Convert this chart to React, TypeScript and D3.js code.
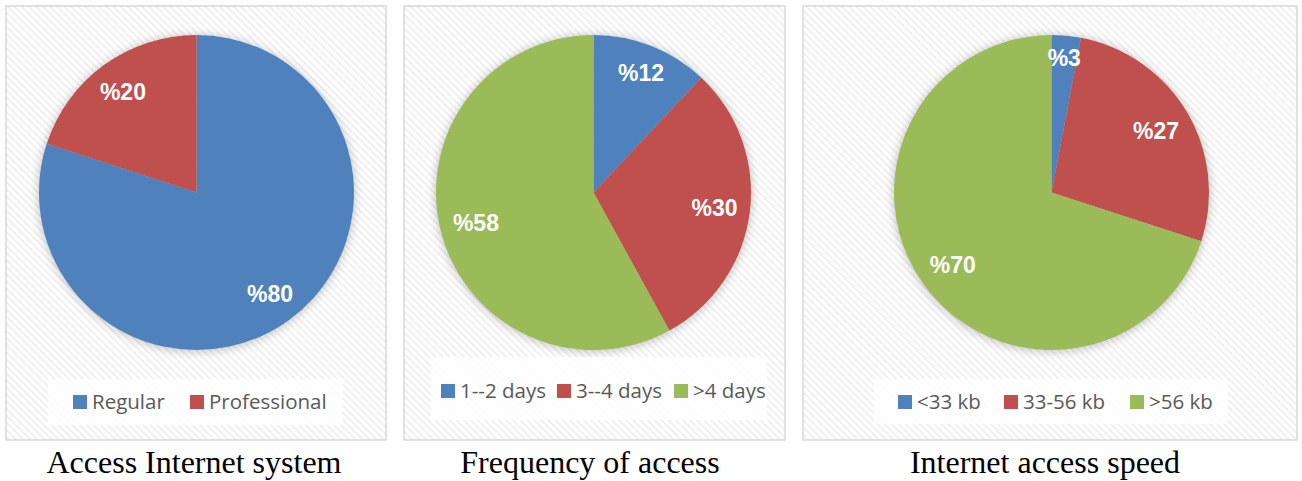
import React from "react";
import * as d3 from "d3";

const colors = ["#4F81BD", "#C0504D", "#9BBB59"];

const titles = ["Access Internet system", "Frequency of access", "Internet access speed"];

const cats1 = ["Regular", "Professional"];
const vals1 = [80, 20];

const cats2 = ["1--2 days", "3--4 days", ">4 days"];
const vals2 = [12, 30, 58];

const cats3 = ["<33 kb", "33-56 kb", ">56 kb"];
const vals3 = [3, 27, 70];

const panels = [
  {
    cats: cats1, vals: vals1, title: titles[0],
    x: 6, w: 380, cx: 196.5,
    legend: { x: 48, y: 379, w: 295, h: 46, sq: [73, 190], sy: 395 },
    titleX: 194,
  },
  {
    cats: cats2, vals: vals2, title: titles[1],
    x: 404, w: 381, cx: 593.5,
    legend: { x: 431, y: 357, w: 336, h: 63, sq: [441, 557, 674], sy: 384 },
    titleX: 590,
  },
  {
    cats: cats3, vals: vals3, title: titles[2],
    x: 803, w: 494, cx: 1051.5,
    legend: { x: 874, y: 379, w: 354, h: 45, sq: [898, 1004, 1130], sy: 395 },
    titleX: 1045,
  },
];

const PY = 6, PH = 434, CY = 192.5, R = 157.5;
const LABEL_OUTER = R - 11.5;

export default function App() {
  const pie = d3.pie<number>().sort(null).value((d) => d);
  const arc = d3.arc<d3.PieArcDatum<number>>().innerRadius(0).outerRadius(R);

  return (
    <svg width={1302} height={481} style={{ position: "absolute", left: 0, top: 0, display: "block" }}>
      <defs>
        <pattern id="hatch" patternUnits="userSpaceOnUse" width={5} height={5} patternTransform="rotate(-45)">
          <rect width={5} height={5} fill="#ffffff" />
          <line x1={0} y1={0} x2={0} y2={5} stroke="#e9e9e9" strokeWidth={2.6} />
        </pattern>
        <filter id="shadow" x="-20%" y="-20%" width="140%" height="140%">
          <feGaussianBlur stdDeviation={5} />
        </filter>
      </defs>
      <rect width={1302} height={481} fill="#ffffff" />
      {panels.map((p, i) => {
        const arcs = pie(p.vals);
        return (
          <g key={i}>
            <rect x={p.x} y={PY} width={p.w} height={PH} fill="url(#hatch)" stroke="#d9d9d9" strokeWidth={1.5} />
            <circle cx={p.cx} cy={CY + 1} r={R + 1} fill="#000" opacity={0.22} filter="url(#shadow)" />
            <g transform={`translate(${p.cx},${CY})`}>
              {arcs.map((a, j) => (
                <path key={j} d={arc(a) || ""} fill={colors[j]} />
              ))}
              {arcs.map((a, j) => {
                const label = "%" + a.data;
                const mid = (a.startAngle + a.endAngle) / 2;
                const hw = label.length * 7.7;
                const hh = 9;
                const d = LABEL_OUTER - (hw * Math.abs(Math.sin(mid)) + hh * Math.abs(Math.cos(mid)));
                const lx = d * Math.sin(mid);
                const ly = -d * Math.cos(mid);
                return (
                  <text key={"l" + j} x={lx} y={ly} dy="0.36em" textAnchor="middle" fill="#ffffff"
                    fontFamily="'Liberation Sans', Arial, sans-serif" fontWeight="bold" fontSize={23}>
                    {label}
                  </text>
                );
              })}
            </g>
            <rect x={p.legend.x} y={p.legend.y} width={p.legend.w} height={p.legend.h} fill="#ffffff" opacity={0.8} />
            {p.cats.map((c, j) => (
              <g key={"g" + j}>
                <rect x={p.legend.sq[j]} y={p.legend.sy} width={14} height={14} fill={colors[j]} />
                <text x={p.legend.sq[j] + 19} y={p.legend.sy + 14} fill="#595959"
                  fontFamily="'Open Sans', sans-serif" fontSize={20.5}>
                  {c}
                </text>
              </g>
            ))}
            <text x={p.titleX} y={473} textAnchor="middle" fill="#000"
              fontFamily="'Liberation Serif', 'Times New Roman', serif" fontSize={32}>
              {p.title}
            </text>
          </g>
        );
      })}
    </svg>
  );
}
